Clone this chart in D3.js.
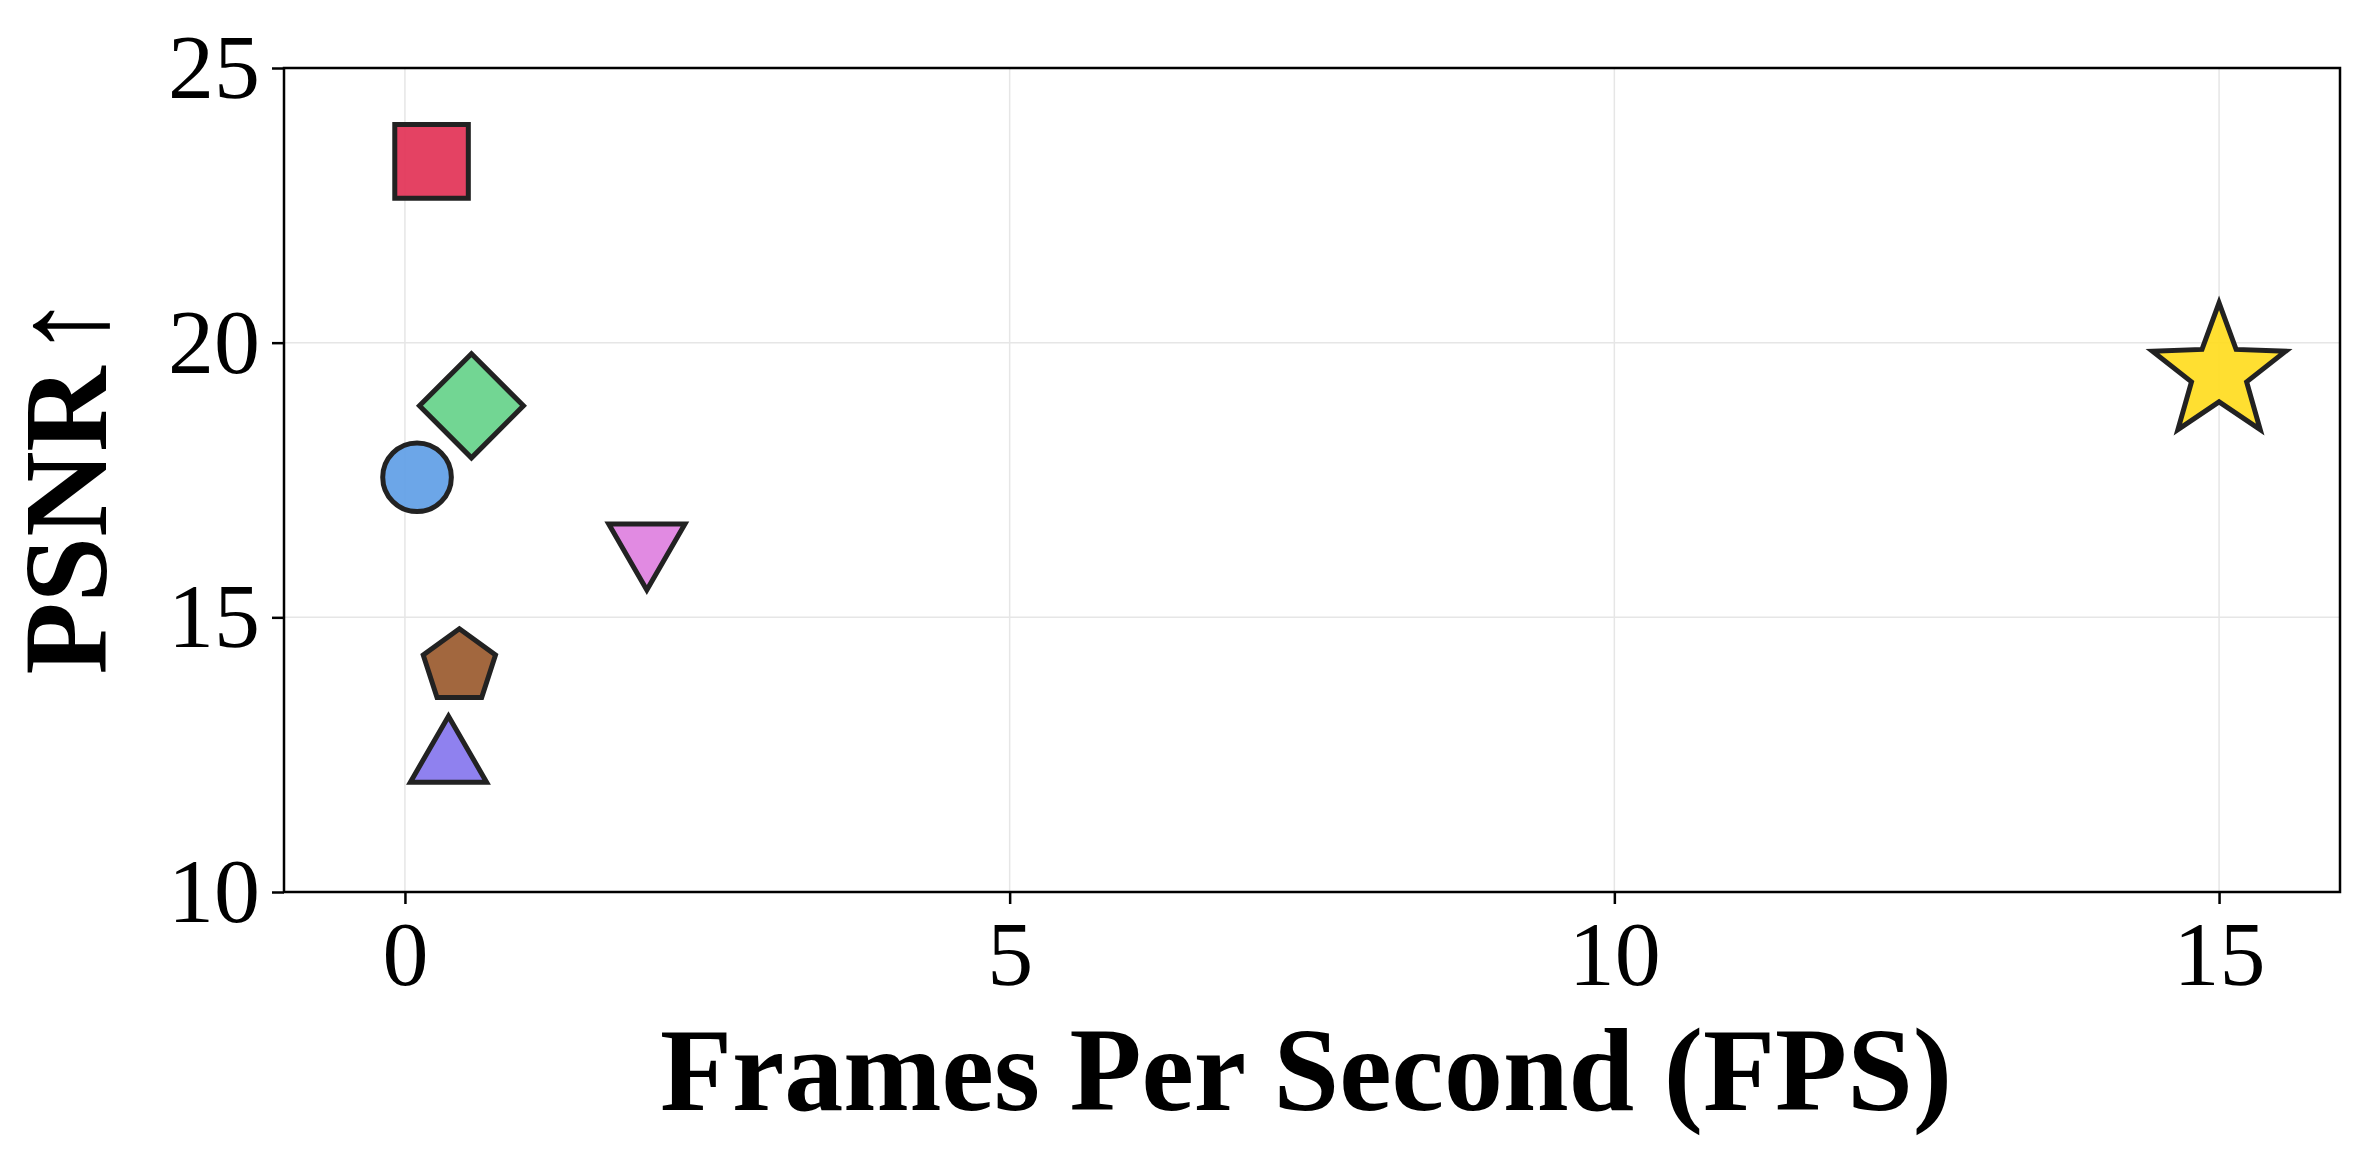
<!DOCTYPE html>
<html><head><meta charset="utf-8">
<script src="https://cdn.jsdelivr.net/npm/d3@7"></script>
<style>body{margin:0;background:#fff}</style>
</head><body><div id="chart"></div>
<script>
var svgWidth = 2370, svgHeight = 1169;
var margin = {top: 68, right: 30, bottom: 277, left: 284};
var width = svgWidth - margin.left - margin.right;
var height = svgHeight - margin.top - margin.bottom;

// data
var fps = [0.22, 0.55, 0.1, 2.0, 0.45, 0.36, 15];
var psnr = [23.3, 18.85, 17.55, 16.3, 14.1, 12.4, 19.45];
var shapes = ["square", "diamond", "circle", "tridown", "pentagon", "triup", "star"];
var colors = ["#e23256", "#66d38a", "#5f9ee6", "#de80e0", "#9a5a2e", "#8676ee", "#ffdc1f"];
var xTicks = [0, 5, 10, 15];
var yTicks = [10, 15, 20, 25];

var svg = d3.select('#chart').append('svg').attr('width', svgWidth).attr('height', svgHeight);
var g = svg.append('g').attr('transform', `translate(${margin.left},${margin.top})`);

var x = d3.scaleLinear().domain([-1, 16]).range([0, width]);
var y = d3.scaleLinear().domain([10, 25]).range([height, 0]);

// grid
g.selectAll('.gx').data(xTicks).enter().append('line')
  .attr('x1', d => x(d)).attr('x2', d => x(d)).attr('y1', 0).attr('y2', height)
  .attr('stroke', '#e6e6e6').attr('stroke-width', 1.5);
g.selectAll('.gy').data(yTicks).enter().append('line')
  .attr('y1', d => y(d)).attr('y2', d => y(d)).attr('x1', 0).attr('x2', width)
  .attr('stroke', '#e6e6e6').attr('stroke-width', 1.5);

var font = "'Liberation Serif', 'Times New Roman', serif";
var xAxis = g.append('g').attr('transform', `translate(0,${height})`)
  .call(d3.axisBottom(x).tickValues(xTicks).tickSize(12).tickPadding(16));
var yAxis = g.append('g').call(d3.axisLeft(y).tickValues(yTicks).tickSize(12).tickPadding(12));
[xAxis, yAxis].forEach(a => {
  a.select('.domain').remove();
  a.selectAll('line').attr('stroke', '#000').attr('stroke-width', 2.5);
  a.selectAll('text').attr('font-family', font).attr('font-size', 92).attr('fill', '#000');
});
g.append('rect').attr('width', width).attr('height', height)
  .attr('fill', 'none').attr('stroke', '#000').attr('stroke-width', 2.5);

function poly(n, r, rot, inner) {
  var pts = [];
  var k = inner ? 2 * n : n;
  for (var i = 0; i < k; i++) {
    var a = -Math.PI / 2 + rot + i * 2 * Math.PI / k;
    var rr = inner && i % 2 ? inner : r;
    pts.push([rr * Math.cos(a), rr * Math.sin(a)]);
  }
  return 'M' + pts.map(p => p.join(',')).join('L') + 'Z';
}
function shapePath(s) {
  switch (s) {
    case 'square': return poly(4, 52, Math.PI / 4);
    case 'diamond': return poly(4, 52, 0);
    case 'circle': return d3.symbol(d3.symbolCircle, 3700)();
    case 'tridown': return poly(3, 44, Math.PI);
    case 'triup': return poly(3, 44, 0);
    case 'pentagon': return poly(5, 38, 0);
    case 'star': return poly(5, 70, 0, 29);
  }
}

g.selectAll('.pt').data(fps).enter().append('path')
  .attr('transform', (d, i) => `translate(${x(d)},${y(psnr[i])})`)
  .attr('d', (d, i) => shapePath(shapes[i]))
  .attr('fill', (d, i) => colors[i]).attr('fill-opacity', 0.92)
  .attr('stroke', '#222').attr('stroke-width', 5).attr('stroke-linejoin', 'miter');

svg.append('text').attr('x', margin.left + width / 2 - 6).attr('y', 1110)
  .attr('text-anchor', 'middle').attr('font-family', font).attr('font-weight', 'bold')
  .attr('font-size', 118).text('Frames Per Second (FPS)');
var yl = svg.append('text').attr('transform', 'translate(106,484) rotate(-90)')
  .attr('text-anchor', 'middle').attr('font-family', font).attr('font-weight', 'bold')
  .attr('font-size', 118);
yl.append('tspan').text('PSNR');
yl.append('tspan').attr('font-weight', 'normal').attr('font-size', 130).attr('dx', 8).text('↑');
</script></body></html>
